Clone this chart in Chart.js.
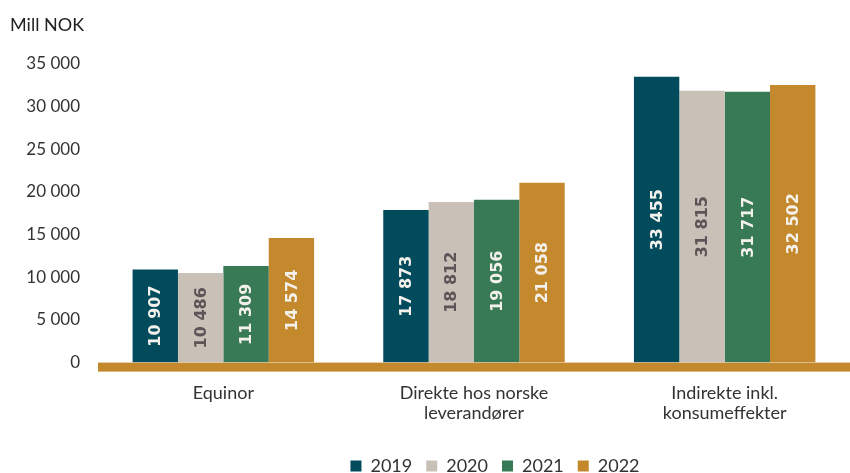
<!DOCTYPE html>
<html>
<head>
<meta charset="utf-8">
<script src="https://cdn.jsdelivr.net/npm/chart.js@4/dist/chart.umd.min.js"></script>
<style>
    html, body { margin: 0; padding: 0; background: #fff; }
    #wrap { width: 850px; height: 473px; }
</style>
</head>
<body>
<div id="wrap"><canvas id="chart"></canvas></div>
<script>
    // Data
    var categories = ["Equinor", ["Direkte hos norske", "leverandører"], ["Indirekte inkl.", "konsumeffekter"]];
    var years = ["2019", "2020", "2021", "2022"];
    var values2019 = [10907, 17873, 33455];
    var values2020 = [10486, 18812, 31815];
    var values2021 = [11309, 19056, 31717];
    var values2022 = [14574, 21058, 32502];
    var yTicks = [0, 5000, 10000, 15000, 20000, 25000, 30000, 35000];

    var colors = ["#024b5c", "#c9c1b7", "#377a55", "#c4892c"];
    var labelColors = ["#f4f1ec", "#5e5357", "#f4f1ec", "#f4f1ec"];
    var gold = "#c4892c";

    function fmt(v) {
        return String(v).replace(/\B(?=(\d{3})+(?!\d))/g, " ");
    }

    // Value labels inside bars, rotated
    var barLabels = {
        id: "barLabels",
        afterDatasetsDraw: function (chart) {
            var ctx = chart.ctx;
            ctx.save();
            ctx.font = "bold 16px 'DejaVu Sans'";
            ctx.textAlign = "center";
            ctx.textBaseline = "middle";
            chart.data.datasets.forEach(function (ds, i) {
                var meta = chart.getDatasetMeta(i);
                meta.data.forEach(function (bar, j) {
                    ctx.save();
                    ctx.translate(bar.x, (bar.y + bar.base) / 2);
                    ctx.rotate(-Math.PI / 2);
                    ctx.fillStyle = labelColors[i];
                    ctx.fillText(fmt(ds.data[j]), 0, 1);
                    ctx.restore();
                });
            });
            ctx.restore();
        }
    };

    // Thick gold base line
    var baseLine = {
        id: "baseLine",
        afterDatasetsDraw: function (chart) {
            var a = chart.chartArea;
            var ctx = chart.ctx;
            ctx.save();
            ctx.fillStyle = gold;
            ctx.fillRect(a.left, a.bottom, chart.width - a.left, 9);
            ctx.restore();
        }
    };

    // Move legend to the right like the original
    var legendShift = {
        id: "legendShift",
        afterLayout: function (chart) {
            chart.legend.left += 60;
            chart.legend.right += 60;
        }
    };

    var ctx = document.getElementById("chart").getContext("2d");
    var myChart = new Chart(ctx, {
        type: "bar",
        data: {
            labels: categories,
            datasets: [
                { label: years[0], data: values2019, backgroundColor: colors[0] },
                { label: years[1], data: values2020, backgroundColor: colors[1] },
                { label: years[2], data: values2021, backgroundColor: colors[2] },
                { label: years[3], data: values2022, backgroundColor: colors[3] },
            ],
        },
        options: {
            responsive: true,
            maintainAspectRatio: false,
            animation: false,
            layout: {
                padding: { left: 10, right: -10, top: 8, bottom: -12 },
            },
            datasets: {
                bar: { categoryPercentage: 0.724, barPercentage: 1.0 },
            },
            scales: {
                x: {
                    afterFit: function (scale) {
                        scale.height += 7;
                    },
                    grid: { display: false },
                    border: { display: false },
                    ticks: {
                        color: "#333",
                        font: { family: "Lato", size: 18, lineHeight: 1.15 },
                        padding: 12,
                        maxRotation: 0,
                    },
                },
                y: {
                    min: 0,
                    max: 35000,
                    afterBuildTicks: function (scale) {
                        scale.ticks = yTicks.map(function (v) { return { value: v }; });
                    },
                    afterFit: function (scale) {
                        scale.width = 88;
                    },
                    grid: { display: false },
                    border: { display: false },
                    ticks: {
                        color: "#333",
                        font: { family: "Lato", size: 17 },
                        padding: 10,
                        callback: function (v) { return fmt(v); },
                    },
                },
            },
            plugins: {
                title: {
                    display: true,
                    text: "Mill NOK",
                    align: "start",
                    color: "#222",
                    font: { family: "Lato", size: 18, weight: "normal" },
                    padding: { top: 6, bottom: 28 },
                },
                legend: {
                    position: "bottom",
                    labels: {
                        boxWidth: 11,
                        boxHeight: 11,
                        padding: 14,
                        color: "#333",
                        font: { family: "Lato", size: 18 },
                    },
                },
                tooltip: { enabled: false },
            },
        },
        plugins: [barLabels, baseLine, legendShift],
    });
</script>
</body>
</html>
